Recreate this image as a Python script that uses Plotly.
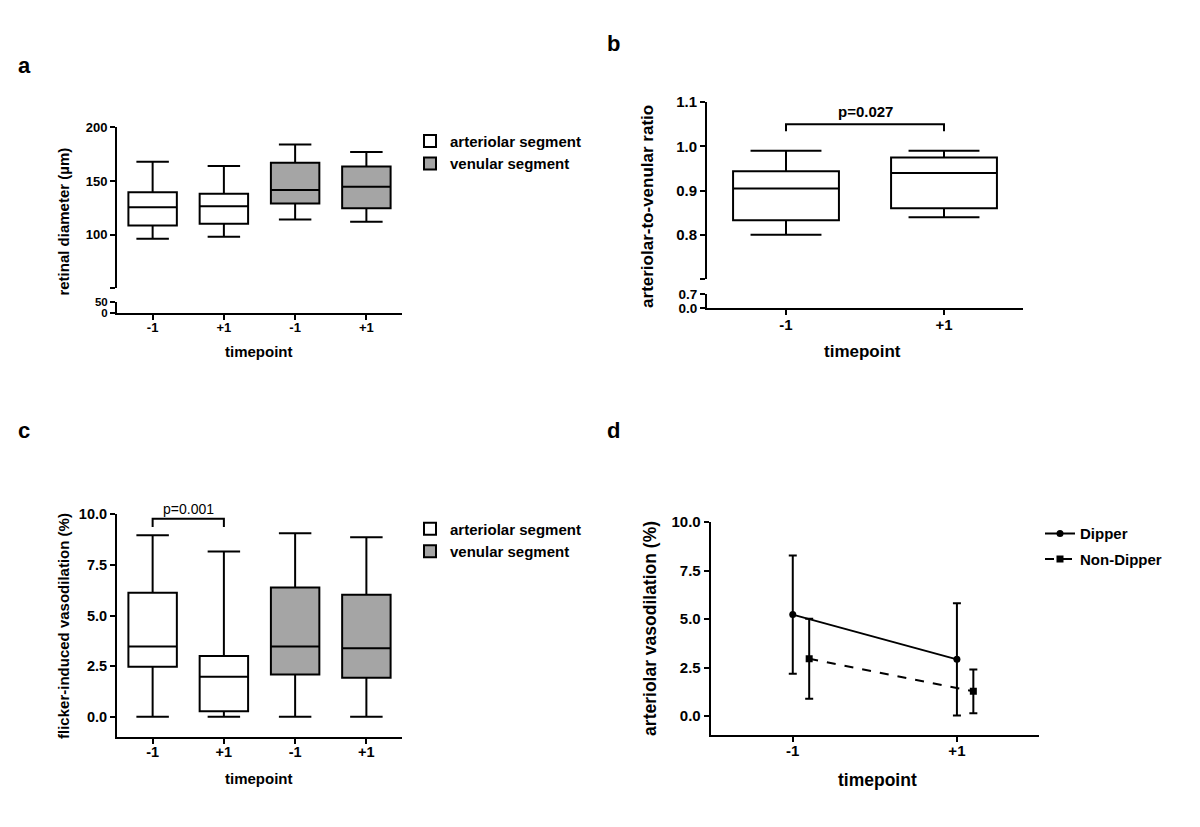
import plotly.graph_objects as go

# The page body keeps a default 8px margin, so the figure is sized to fit
# inside the 1200x827 window and positions are given in window pixels.
WIN_W, WIN_H = 1200, 827
OFF = 8
W, H = WIN_W - 2 * OFF, WIN_H - 2 * OFF


def px(x):
    return (x - OFF) / W


def py(y):
    return 1 - (y - OFF) / H


# ---------------- data ----------------
box_cats = ["-1", "+1", "-1", "+1"]
box_groups = ["arteriolar segment", "arteriolar segment", "venular segment", "venular segment"]

# panel a: retinal diameter (µm)
a_low = [96, 98, 114, 112]
a_q1 = [108.5, 110, 129, 124.5]
a_med = [125.5, 126.5, 141.5, 144.5]
a_q3 = [139.5, 138, 167, 163.5]
a_high = [168, 164, 184, 177]

# panel b: arteriolar-to-venular ratio
b_cats = ["-1", "+1"]
b_low = [0.80, 0.84]
b_q1 = [0.833, 0.86]
b_med = [0.905, 0.94]
b_q3 = [0.944, 0.975]
b_high = [0.99, 0.99]
b_p_text = "p=0.027"
b_bracket = [1.034, 1.05, 1.05, 1.034]
b_bracket_x = [0, 0, 1, 1]

# panel c: flicker-induced vasodilation (%)
c_low = [0.0, 0.0, 0.0, 0.0]
c_q1 = [2.47, 0.27, 2.08, 1.92]
c_med = [3.47, 1.97, 3.47, 3.38]
c_q3 = [6.12, 3.0, 6.38, 6.03]
c_high = [8.97, 8.16, 9.06, 8.87]
c_p_text = "p=0.001"
c_bracket = [9.37, 9.78, 9.78, 9.37]
c_bracket_x = [0, 0, 1, 1]

# panel d: arteriolar vasodilation (%)
d_cats = ["-1", "+1"]
dipper_mean = [5.23, 2.92]
dipper_sd = [3.05, 2.9]
nondipper_mean = [2.95, 1.27]
nondipper_sd = [2.06, 1.13]
nondipper_offset = 0.1

FONT = "Liberation Sans"
GRAY = "#a5a5a5"
colors = {"arteriolar segment": "white", "venular segment": GRAY}

fig = go.Figure()


def add_boxes(xa, ya, low, q1, med, q3, high, groups, legend, width=0.68):
    seen = set()
    for i in range(len(med)):
        g = groups[i]
        fig.add_trace(go.Box(
            x=[i], q1=[q1[i]], median=[med[i]], q3=[q3[i]],
            lowerfence=[low[i]], upperfence=[high[i]],
            width=width, whiskerwidth=0.67, boxpoints=False,
            fillcolor=colors[g], line=dict(color="black", width=2),
            name=g, legendgroup=g, showlegend=(g not in seen) and legend is not None,
            legend=legend if legend else "legend",
            xaxis=xa, yaxis=ya, hoverinfo="skip",
        ))
        seen.add(g)


def empty(xa, ya):
    # carries the lower part of a broken y axis
    fig.add_trace(go.Scatter(x=[None], y=[None], mode="markers", xaxis=xa, yaxis=ya,
                             showlegend=False, hoverinfo="skip"))


# panel a
add_boxes("x", "y", a_low, a_q1, a_med, a_q3, a_high, box_groups, "legend")
empty("x", "y2")
# panel b
add_boxes("x3", "y3", b_low, b_q1, b_med, b_q3, b_high, ["arteriolar segment"] * 2, None, width=0.67)
empty("x3", "y4")
fig.add_trace(go.Scatter(x=b_bracket_x, y=b_bracket, mode="lines", line=dict(color="black", width=2),
                         xaxis="x3", yaxis="y3", showlegend=False, hoverinfo="skip"))
# panel c
add_boxes("x5", "y5", c_low, c_q1, c_med, c_q3, c_high, box_groups, "legend2")
fig.add_trace(go.Scatter(x=c_bracket_x, y=c_bracket, mode="lines", line=dict(color="black", width=2),
                         xaxis="x5", yaxis="y5", showlegend=False, hoverinfo="skip"))
# panel d
fig.add_trace(go.Scatter(
    x=list(range(len(d_cats))), y=dipper_mean, mode="lines+markers", name="Dipper",
    line=dict(color="black", width=2), marker=dict(symbol="circle", size=7, color="black"),
    error_y=dict(type="data", array=dipper_sd, color="black", thickness=2, width=4),
    xaxis="x6", yaxis="y6", legend="legend3", legendgroup="dip", hoverinfo="skip"))
fig.add_trace(go.Scatter(
    x=[i + nondipper_offset for i in range(len(d_cats))], y=nondipper_mean, mode="lines+markers",
    name="Non-Dipper",
    line=dict(color="black", width=2, dash="dash"), marker=dict(symbol="square", size=7, color="black"),
    error_y=dict(type="data", array=nondipper_sd, color="black", thickness=2, width=4),
    xaxis="x6", yaxis="y6", legend="legend3", legendgroup="nondip", hoverinfo="skip"))


def ax(domain, rng, tickvals, ticktext=None, anchor=None, fs=13, tickformat=None, standoff=0):
    d = dict(domain=domain, range=rng, tickvals=tickvals, showline=True, linecolor="black",
             linewidth=2, ticks="outside", ticklen=5, tickwidth=2, tickcolor="black",
             showgrid=False, zeroline=False, fixedrange=True, ticklabelstandoff=standoff,
             tickfont=dict(family=FONT, size=fs, color="black", weight="bold"))
    if ticktext is not None:
        d["ticktext"] = ticktext
    if anchor:
        d["anchor"] = anchor
    if tickformat:
        d["tickformat"] = tickformat
    return d


layout = dict(
    width=W, height=H, margin=dict(l=0, r=0, t=0, b=0, pad=0),
    paper_bgcolor="white", plot_bgcolor="white", boxmode="overlay",
    font=dict(family=FONT, color="black"),
    # panel a
    xaxis=ax([px(117), px(402)], [-0.5, 3.5], [0, 1, 2, 3], box_cats, anchor="y2", fs=13, standoff=-3),
    yaxis=ax([py(285), py(120.7)], [50, 200], [50, 100, 150, 200], ["", "100", "150", "200"],
             anchor="x", fs=13),
    yaxis2=ax([py(310), py(299)], [0, 50], [0, 50], anchor="x", fs=11.5),
    # panel b
    xaxis3=ax([px(707), px(1023)], [-0.5, 1.5], [0, 1], b_cats, anchor="y4", fs=15, standoff=-3),
    yaxis3=ax([py(275.7), py(95)], [0.7, 1.1], [0.7, 0.8, 0.9, 1.0, 1.1], ["", "0.8", "0.9", "1.0", "1.1"],
              anchor="x3", fs=15),
    yaxis4=ax([py(305), py(291)], [0, 0.7], [0, 0.7], ["0.0", "0.7"], anchor="x3", fs=13.5),
    # panel c
    xaxis5=ax([px(117), px(402)], [-0.5, 3.5], [0, 1, 2, 3], box_cats, anchor="y5", fs=14.5, standoff=-4),
    yaxis5=ax([py(743.3), py(516)], [-1, 10], [0, 2.5, 5, 7.5, 10], anchor="x5", fs=14.5, tickformat=".1f"),
    # panel d
    xaxis6=ax([px(710.7), px(1039)], [-0.5, 1.5], [0, 1], d_cats, anchor="y6", fs=15, standoff=-4),
    yaxis6=ax([py(741.7), py(524)], [-1, 10], [0, 2.5, 5, 7.5, 10], anchor="x6", fs=15, tickformat=".1f"),
    legend=dict(x=px(410), y=py(118), xanchor="left", yanchor="top", bgcolor="rgba(0,0,0,0)",
                font=dict(family=FONT, size=15, weight="bold"), tracegroupgap=0),
    legend2=dict(x=px(410), y=py(514), xanchor="left", yanchor="top", bgcolor="rgba(0,0,0,0)",
                 font=dict(family=FONT, size=15, weight="bold"), tracegroupgap=0),
    legend3=dict(x=px(1040), y=py(519), xanchor="left", yanchor="top", bgcolor="rgba(0,0,0,0)",
                 font=dict(family=FONT, size=15, weight="bold"), tracegroupgap=3),
)
fig.update_layout(**layout)

annotations = []


def txt(x, y, t, size, angle=0, weight="bold"):
    annotations.append(dict(x=px(x), y=py(y), xref="paper", yref="paper", text=t, showarrow=False,
                            textangle=angle, xanchor="center", yanchor="middle",
                            font=dict(family=FONT, size=size, color="black", weight=weight)))


# panel letters
txt(24, 58, "a", 22)
txt(613, 35, "b", 22)
txt(24, 430, "c", 22)
txt(613, 430, "d", 22)
# axis titles
txt(64, 217, "retinal diameter (µm)", 15, -90)
txt(259, 350, "timepoint", 15)
txt(648, 202, "arteriolar-to-venular ratio", 17, -90)
txt(862, 350, "timepoint", 17)
txt(64, 630, "flicker-induced vasodilation (%)", 15, -90)
txt(259, 786, "timepoint", 15)
txt(650, 633, "arteriolar vasodilation (%)", 17.5, -90)
txt(877, 787, "timepoint", 17.5)

# p-values
annotations.append(dict(x=0.5, y=b_bracket[1], xref="x3", yref="y3", text=b_p_text, showarrow=False,
                        yanchor="bottom", yshift=2, font=dict(family=FONT, size=15, color="black", weight="bold")))
annotations.append(dict(x=0.5, y=c_bracket[1], xref="x5", yref="y5", text=c_p_text, showarrow=False,
                        yanchor="bottom", yshift=0, font=dict(family=FONT, size=14, color="black")))

fig.update_layout(annotations=annotations)
fig.write_html("out.html")
